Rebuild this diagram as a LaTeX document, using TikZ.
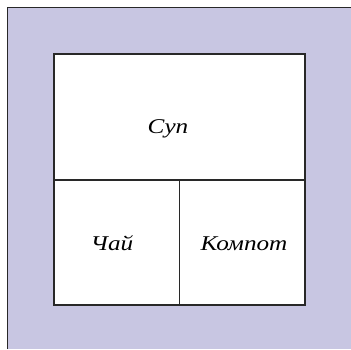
\documentclass[tikz,border=0pt]{standalone}
\usepackage{xcolor}
\usepackage{fontspec}
\setmainfont{Liberation Serif}
\usepackage{tikz}
\usetikzlibrary{positioning}

\definecolor{fon}{RGB}{200,198,226}
\definecolor{liniya}{RGB}{40,40,40}

\begin{document}
\begin{tikzpicture}[x=1pt, y=-1pt, every node/.style={anchor=base, font=\itshape\fontsize{21}{25}\selectfont}, nadpis/.style={xscale=1.2, transform shape}]
		\useasboundingbox (0,0) rectangle (351,349);
		\fill [fon] (7.5,7.5) rectangle (351,349);
		\draw [liniya, line width=1.6pt] (7.5,349) -- (7.5,7.5) -- (351,7.5);
		
		\fill [white] (54,54) rectangle (305,305);
		\draw [liniya, line width=1.6pt] (54,54) rectangle (305,305);
		\draw [liniya, line width=1.3pt] (54,180) -- (305,180);
		\draw [liniya, line width=1.3pt] (179.5,180) -- (179.5,305);
		
		\node (sup) [nadpis] at (168,133) {Суп};
		\node (chai) [nadpis] at (112,250) {Чай};
		\node (kompot) [nadpis] at (244,250) {Компот};
		
	\end{tikzpicture}
\end{document}
